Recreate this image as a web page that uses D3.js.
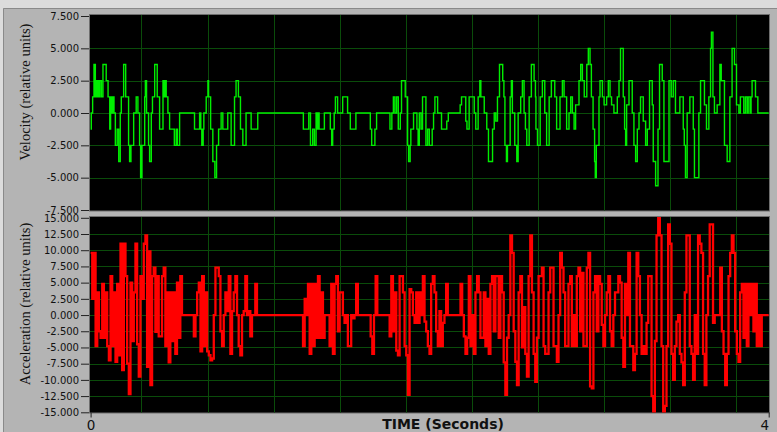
<!DOCTYPE html>
<html>
<head>
<meta charset="utf-8">
<script src="https://cdn.jsdelivr.net/npm/d3@7"></script>
<style>
  html, body { margin: 0; padding: 0; background: #dcdcdc; }
  svg { display: block; }
</style>
</head>
<body>
<div id="chart"></div>
<script>
// axis ticks
const velocityTicks = [-7.5, -5, -2.5, 0, 2.5, 5, 7.5];
const accelTicks = [-15, -12.5, -10, -7.5, -5, -2.5, 0, 2.5, 5, 7.5, 10, 12.5, 15];
const timeTicks = [0, 4];
const gridTimes = [0.3, 0.69, 1.08, 1.47, 1.86, 2.25, 2.64, 3.03, 3.42, 3.81];

// velocity steps: [time (s), value from that time on]
const velocity = [
  [0, -1.25], [0.004, 0], [0.012, 1.25], [0.020, 3.75], [0.028, 1.25], [0.032, 2.5], [0.038, 1.25],
  [0.044, 2.5], [0.049, 1.25], [0.055, 2.5], [0.064, 1.25], [0.073, 3.75], [0.092, 2.5], [0.103, 1.25],
  [0.113, -1.25], [0.118, 1.25], [0.126, 0], [0.130, 1.25], [0.138, 0], [0.146, -2.5], [0.157, -1.25],
  [0.166, -3.75], [0.175, 0], [0.181, 1.25], [0.195, 3.75], [0.207, 1.25], [0.224, -2.5], [0.230, -3.75],
  [0.238, -2.5], [0.254, 0], [0.269, 1.25], [0.279, 0], [0.289, -2.5], [0.295, -5], [0.303, -2.5],
  [0.319, 1.25], [0.323, 2.5], [0.330, 0], [0.342, -2.5], [0.348, -3.75], [0.358, 0], [0.365, 1.25],
  [0.378, 3.75], [0.393, 1.25], [0.407, -1.25], [0.427, 2.5], [0.432, 1.25], [0.438, 2.5], [0.446, 1.25],
  [0.456, 0], [0.466, -1.25], [0.494, -2.5], [0.505, -1.25], [0.512, -2.5], [0.525, 0], [0.613, -1.25],
  [0.643, 0], [0.650, -1.25], [0.656, -2.5], [0.664, -1.25], [0.668, 0], [0.682, 1.25], [0.692, 2.5],
  [0.696, 1.25], [0.708, -1.25], [0.721, -3.75], [0.733, -5], [0.743, -2.5], [0.755, -1.25], [0.770, 0],
  [0.780, -1.25], [0.809, 0], [0.829, -2.5], [0.849, 1.25], [0.858, 2.5], [0.872, 1.25], [0.884, -1.25],
  [0.898, -2.5], [0.917, 0], [0.947, -1.25], [0.986, 0],
  [1.255, -1.25], [1.287, 0], [1.297, -2.5], [1.310, -1.25], [1.320, -2.5], [1.330, 0], [1.337, -1.25],
  [1.343, 0], [1.348, -1.25], [1.379, 0], [1.414, -1.25], [1.422, -2.5], [1.428, -1.25], [1.437, 0],
  [1.444, 1.25], [1.457, 0], [1.487, 1.25], [1.516, 0], [1.532, -1.25], [1.565, 0], [1.650, -1.25],
  [1.658, -2.5], [1.677, -1.25], [1.687, 0], [1.766, -1.25], [1.777, 0], [1.786, 1.25], [1.795, 0],
  [1.805, 1.25], [1.815, -1.25], [1.827, 0], [1.834, 2.5], [1.856, 1.25], [1.870, -2.5], [1.876, -3.75],
  [1.885, -2.5], [1.889, -1.25], [1.905, 0], [1.925, -1.25], [1.932, -2.5], [1.939, 0], [1.949, -1.25],
  [1.958, 1.25], [1.978, -2.5], [1.988, -1.25], [1.998, -2.5], [2.015, -1.25], [2.023, 0], [2.031, 1.25],
  [2.047, 0], [2.070, -1.25], [2.101, -0.625], [2.110, 0], [2.180, 0.625], [2.188, 1.25], [2.213, -0.625],
  [2.220, -1.25], [2.233, 1.25], [2.263, 0], [2.272, -1.25], [2.286, 1.25], [2.296, 2.5], [2.302, 1.25],
  [2.322, 0], [2.337, -1.25], [2.347, -3.75], [2.371, -1.25], [2.381, 0], [2.390, -0.625], [2.400, 1.25],
  [2.412, 3.75], [2.431, 2.5], [2.438, 1.25], [2.444, -2.5], [2.453, -3.75], [2.459, -2.5], [2.475, 1.25],
  [2.482, 2.5], [2.488, 0], [2.502, -2.5], [2.514, -3.75], [2.522, 0], [2.537, 1.25], [2.547, 2.5],
  [2.557, 0], [2.565, -1.25], [2.573, -2.5], [2.587, 1.25], [2.600, 3.75], [2.616, 2.5], [2.624, 1.25],
  [2.627, -1.25], [2.636, -2.5], [2.652, 1.25], [2.665, 2.5], [2.679, 0], [2.690, -2.5], [2.705, 1.25],
  [2.718, 2.5], [2.738, 1.25], [2.749, -1.25], [2.769, 1.25], [2.783, 2.5], [2.793, 1.25], [2.808, -1.25],
  [2.822, 0], [2.832, 1.25], [2.842, 0], [2.852, -1.25], [2.861, 0.625], [2.881, 2.5], [2.891, 3.75],
  [2.901, 2.5], [2.912, 1.25], [2.927, 3.75], [2.936, 5], [2.946, 3.75], [2.954, 1.25], [2.964, -1.25],
  [2.973, -3.75], [2.977, -5], [2.983, -2.5], [2.999, 1.25], [3.005, 2.5], [3.019, 1.25], [3.029, 0.625],
  [3.044, 1.25], [3.054, 2.5], [3.064, 1.25], [3.073, 0.625], [3.087, 0], [3.107, 1.25], [3.117, 2.5],
  [3.126, 5], [3.142, 1.25], [3.150, -1.25], [3.156, -2.5], [3.162, 0.625], [3.176, 2.5], [3.195, 0],
  [3.205, -2.5], [3.215, -3.75], [3.225, -1.25], [3.235, 0], [3.244, 1.25], [3.260, -0.625], [3.274, -2.5],
  [3.284, -1.25], [3.297, 2.5], [3.313, 0.625], [3.319, -3.75], [3.333, -5.625], [3.347, -1.25],
  [3.356, 3.75], [3.372, 2.5], [3.382, -3.75], [3.412, 2.5], [3.425, 1.25], [3.437, 2.5], [3.450, 0],
  [3.476, 1.25], [3.496, -1.25], [3.502, -2.5], [3.509, -5], [3.519, 0], [3.535, 1.25], [3.555, -1.25],
  [3.562, -5], [3.588, 0], [3.598, 2.5], [3.621, 0.625], [3.633, -1.25], [3.647, 1.25], [3.657, 5],
  [3.662, 6.25], [3.671, 1.25], [3.680, 0], [3.696, 0.625], [3.712, 3.75], [3.720, 2.5], [3.739, -2.5],
  [3.755, -3.75], [3.771, 1.25], [3.784, 5], [3.798, 3.75], [3.810, 0.625], [3.824, 0], [3.833, 1.25],
  [3.853, 0], [3.863, 1.25], [3.873, 0], [3.879, 1.25], [3.890, 0], [3.896, 1.25], [3.902, 2.5],
  [3.922, 1.25], [3.936, 0], [4.0, 0]
];

// acceleration: bursts of samples (sample period DT), zero in between
const DT = 0.0098;
const accelBursts = [
  { t0: 0, values: [9.6, 2.5, 9.6, -4.8, 3.5, -2.5, -3.5, 4.8, -3.5, 3.5, -4.8, -7, 6, -4.8, 3.5, -7.2,
    4.8, -6.2, 11, -8.5, 11, 6, -7.5, -12.2, 5, -4, 3.5, 11, -4.5, -9.5, 6, 2.5, 11, 12.3, -8, 9.8, -10.8,
    6, 7.3, -2.6, 6, -3.3, -3.3, 6, 7.3, -4.8, 3.5, -7.3, 3.5, -4, 3.5, -6, 5, -3.5, 6, 0] },
  { t0: 0.609, values: [-3.3, 0, 3.5, 5, -5.6, 6, -4.8, 3.5, -5.6, -6.2, -7, -6.7, 0, 7.3, 7.3, 6, -2.5,
    -4.8, 0, 3.5, 0.6, 6, -6, 0.6, 3.5, 6, 0, -4.8, -6.2, 0, 0.6, 6, 0, 0.6, -3.3, 0, 0, 4.8, 0] },
  { t0: 1.253, values: [-4.8, 2.5, 0, 4.8, -6, 4.8, -4.8, 4.8, -3.5, 6, -3.5, 3.5, -3.5, 0, 0, 0, -4.8,
    4.8, -6, 4.8, 6, -2.5, 3.5, 3.5, 0, -1.2, 0, -4.8, -4.8, 0, -0.5, 0, 4.8, 0] },
  { t0: 1.652, values: [-3.3, -6, 0, 6, 0] },
  { t0: 1.764, values: [-3.3, 6, -2.5, 3.5, -5.5, -6.2, 6, 6, 3.5, -4.8, -6.2, -12.3, 4, 3.5, 0, -1.2,
    3.5, -1.2, 3.5, 0, 6, -1, -2.5, -4.8, -6, 4.8, 6, 3.5, -2.5, -4.8, 0.6, -4.8, -1.2, 0, 4.8, 0] },
  { t0: 2.182, values: [4.8, 0, -3.3, -6, -3.5, 6, -4.8, 0, -6, 3.5, 6, 3.5, -3.5, -3.5, 3.5, -4.8, 2.5,
    -6, 4.8, 6, -2.5, 6, 6, -3.5, 6, 3.5, -7.3, -12.3, -3.5, 0, 12.3, 9.6, -2.5, -7.2, -10.8, 3.5, 6, -5,
    1.2, -6, -9.5, 6, 12.3, 3.5, -6, -10.3, -3.5, 6, 6, 7.3, -4.8, -6, -6, 3.5, 7.3, 7.3, -4.8, -4.8, -7.2,
    0, 9.6, 7.3, 3.5, -4.8, -4.8, 4.8, 6, -4.8, 0, -4.8, 6, 7.3, -2.5, 6.5, -4.8, -4.8, 7.3, 9.6, -11,
    -11.3, 3.5, 6, -2.5, 6, 4.8, -1.5, -4.8, 0, 3.5, 6, -2.5, -4.8, 0, 3.5, 3.5, 6, 5, -3.5, -8, 4.8, 0,
    9.6, -4.8, -4.8, -8.5, -6, 9.6, 6, 0, -6, -4.8, -6, -1.2, 6, 6, -12.5, -15, -4, 12.3, 15, 12.3, -4.8,
    -15, -14, -4.8, 14, 11, -6, -10, -4.8, -1, 0, -6, -7.3, -10.8, 3.5, 12.3, 12.3, -4.8, -6, -10, 0, -6,
    12.3, 11, 9.6, -6, -10.8, 0, 6, 14, 14, -1.2] },
  { t0: 3.714, values: [7.3, -2.5, -6, -10.8, -6, 6, 9.6, 12.3, 9.6, -2.5, -6, -7.2, 3.5, 4.8, -3.5, 4.8,
    -4.8, 4.8, 0, 4.8, -2.5, 4.8, -4.8, 0, -4.8] }
];

const width = 777;
const height = 432;

function accelSeries() {
  const pts = [];
  accelBursts.forEach((b) => {
    b.values.forEach((v, i) => pts.push([b.t0 + i * DT, v]));
    pts.push([b.t0 + b.values.length * DT, 0]);
  });
  pts.push([4, 0]);
  return pts;
}

const svg = d3
  .select('#chart')
  .append('svg')
  .attr('width', width)
  .attr('height', height);

// window frame
svg.append('rect').attr('width', width).attr('height', height).attr('fill', '#dcdcdc');
svg.append('rect')
  .attr('x', 3).attr('y', 8)
  .attr('width', width - 3).attr('height', height - 8)
  .attr('fill', '#b4b4b4');
svg.append('path')
  .attr('d', `M3.5,${height}V8.5H${width}`)
  .attr('fill', 'none')
  .attr('stroke', '#8a8a8a');

const xScale = d3.scaleLinear().domain([0, 4]).range([90.6, 768.7]);

const panels = [
  {
    id: 'vel', data: velocity, ticks: velocityTicks, domain: [-7.5, 7.5],
    range: [210, 16], box: [15, 210.5], color: '#00ee00', lw: 1.4,
    title: 'Velocity (relative units)', titleY: 92
  },
  {
    id: 'acc', data: accelSeries(), ticks: accelTicks, domain: [-15, 15],
    range: [412.3, 217.8], box: [217, 412.5], color: '#ff0000', lw: 2.3,
    title: 'Acceleration (relative units)', titleY: 304
  }
];

panels.forEach((p) => {
  const yScale = d3.scaleLinear().domain(p.domain).range(p.range);
  const [top, bottom] = p.box;

  svg.append('defs').append('clipPath').attr('id', 'clip-' + p.id)
    .append('rect')
    .attr('x', 90).attr('y', top)
    .attr('width', 679).attr('height', bottom - top);

  svg.append('rect')
    .attr('x', 89.5).attr('y', top - 0.5)
    .attr('width', 680).attr('height', bottom - top + 1)
    .attr('fill', '#000')
    .attr('stroke', '#6e6e6e');

  // gridlines
  const grid = svg.append('g').attr('stroke', '#0a4c0a').attr('stroke-width', 1);
  grid.selectAll('line.h')
    .data(p.ticks.slice(1, -1))
    .join('line')
    .attr('x1', 90).attr('x2', 769)
    .attr('y1', (d) => Math.round(yScale(d)) + 0.5)
    .attr('y2', (d) => Math.round(yScale(d)) + 0.5);
  grid.selectAll('line.v')
    .data(gridTimes)
    .join('line')
    .attr('x1', (d) => Math.round(xScale(d)) + 0.5)
    .attr('x2', (d) => Math.round(xScale(d)) + 0.5)
    .attr('y1', top).attr('y2', bottom);

  const line = d3.line()
    .x((d) => xScale(d[0]))
    .y((d) => yScale(d[1]))
    .curve(d3.curveStepAfter);

  svg.append('path')
    .datum(p.data)
    .attr('clip-path', `url(#clip-${p.id})`)
    .attr('fill', 'none')
    .attr('stroke', p.color)
    .attr('stroke-width', p.lw)
    .attr('d', line);

  const yAxis = d3.axisLeft(yScale)
    .tickValues(p.ticks)
    .tickFormat((d) => d.toFixed(3))
    .tickSize(8)
    .tickPadding(2);

  const ax = svg.append('g')
    .attr('transform', 'translate(89, 0)')
    .call(yAxis);
  ax.select('.domain').remove();
  ax.selectAll('.tick line').attr('stroke', '#222');
  ax.selectAll('text')
    .attr('fill', '#111')
    .style('font-family', 'DejaVu Sans')
    .style('font-size', '10px');

  svg.append('text')
    .attr('transform', `translate(30, ${p.titleY}) rotate(-90)`)
    .attr('text-anchor', 'middle')
    .style('font-family', 'Liberation Serif')
    .style('font-size', '14.5px')
    .attr('fill', '#111')
    .text(p.title);
});

// time axis
const xAxis = d3.axisBottom(xScale)
  .tickValues(timeTicks)
  .tickFormat(d3.format('d'))
  .tickSize(5)
  .tickPadding(3);

const xa = svg.append('g')
  .attr('transform', 'translate(0, 412.5)')
  .call(xAxis);
xa.select('.domain').remove();
xa.selectAll('.tick line').attr('stroke', '#222');
xa.selectAll('text')
  .attr('fill', '#111')
  .style('font-family', 'DejaVu Sans')
  .style('font-size', '13.5px')
  .attr('text-anchor', (d) => (d === 4 ? 'end' : 'middle'));

svg.append('text')
  .attr('x', 443)
  .attr('y', 428.5)
  .attr('text-anchor', 'middle')
  .style('font-family', 'DejaVu Sans')
  .style('font-weight', 'bold')
  .style('font-size', '14px')
  .attr('fill', '#111')
  .text('TIME (Seconds)');
</script>
</body>
</html>
